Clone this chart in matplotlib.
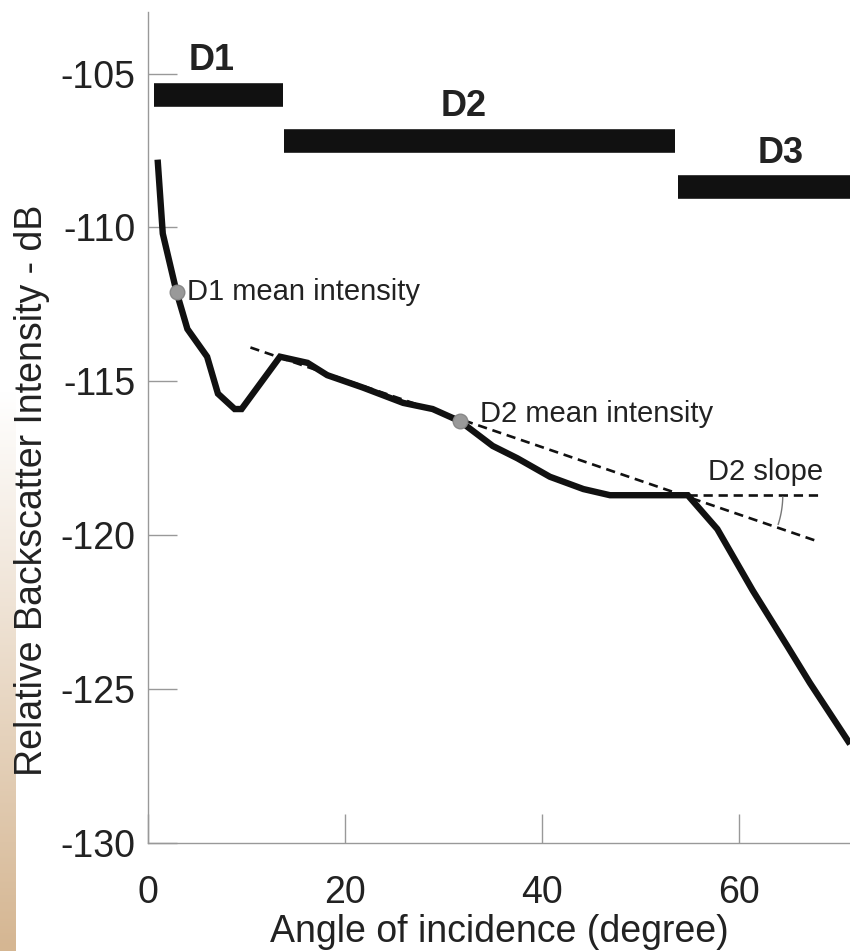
import numpy as np
import matplotlib
matplotlib.use("Agg")
from matplotlib import pyplot as plt
from matplotlib.colors import LinearSegmentedColormap

plt.rcParams['font.family'] = ['Liberation Sans', 'DejaVu Sans']
plt.rcParams['axes.unicode_minus'] = False

# backscatter curve
angle = [1.0, 1.5, 2.9, 4.0, 6.0, 7.1, 8.8, 9.5, 13.4, 16.2, 18.2, 21.8, 25.9,
         28.9, 31.7, 35.0, 37.5, 40.8, 44.2, 46.9, 54.8, 57.8, 61.4, 64.9, 67.2, 71.1]
intensity = [-107.9, -110.2, -112.1, -113.3, -114.2, -115.4, -115.9, -115.9, -114.2,
             -114.4, -114.8, -115.2, -115.7, -115.9, -116.3, -117.1, -117.5, -118.1,
             -118.5, -118.7, -118.7, -119.8, -121.8, -123.6, -124.8, -126.7]

# domains
domain_names = ['D1', 'D2', 'D3']
domain_start = [0.6, 13.8, 53.8]
domain_end = [13.7, 53.5, 71.3]
domain_level = [-105.7, -107.2, -108.7]
domain_label_x = [6.5, 32.0, 64.2]

# mean intensity points
mean_names = ['D1 mean intensity', 'D2 mean intensity']
mean_angle = [2.9, 31.7]
mean_value = [-112.1, -116.3]

# D2 slope line and the horizontal reference
slope_x = [10.4, 68.0]
slope_y = [-113.9, -120.2]
flat_x = [54.8, 68.3]
flat_y = [-118.7, -118.7]

text_col = '#222222'
grey = '#999999'

fig = plt.figure(figsize=(8.5, 9.51), dpi=100)

# pale tan strip down the left edge (behind everything)
strip = fig.add_axes([0, 0, 16/850, 560/951])
cmap = LinearSegmentedColormap.from_list('tan', ['#ffffff', '#d5b692'])
strip.imshow(np.linspace(0, 1, 200).reshape(-1, 1), aspect='auto', cmap=cmap)
strip.axis('off')
strip.set_zorder(-1)

ax = fig.add_axes([148/850, 108/951, 702/850, 831/951])
ax.patch.set_alpha(0)

ax.plot(angle, intensity, color='#111111', lw=4.6, solid_joinstyle='miter', zorder=3)
ax.plot(slope_x, slope_y, color='#111111', lw=1.9, ls=(0, (3.5, 2.2)), zorder=2)
ax.plot(flat_x, flat_y, color='#111111', lw=1.9, ls=(0, (3.5, 2.2)), zorder=2)
ax.plot(mean_angle, mean_value, ls='none', marker='o', ms=10.5, color=grey,
        markeredgecolor='#888888', zorder=4)

for name, x0, x1, lev, lx in zip(domain_names, domain_start, domain_end,
                                 domain_level, domain_label_x):
    ax.plot([x0, x1], [lev, lev], color='#111111', lw=17, solid_capstyle='butt',
            clip_on=False)
    ax.text(lx, lev + 0.55, name, fontsize=26, fontweight='bold', color=text_col,
            ha='center', va='bottom')

ax.text(4.0, -112.1, mean_names[0], fontsize=21, color=text_col, va='center')
ax.text(33.7, -116.05, mean_names[1], fontsize=21, color=text_col, va='center')
ax.text(56.9, -117.95, 'D2 slope', fontsize=21, color=text_col, va='center')

ax.set_xlim(0, 71.27)
ax.set_ylim(-130, -103.0)

# small angle arc between the slope line and the horizontal
fig.canvas.draw()
cx, cy = ax.transData.transform((flat_x[0], flat_y[0]))
ex, ey = ax.transData.transform((slope_x[1], slope_y[1]))
theta_end = np.arctan2(ey - cy, ex - cx)
theta = np.linspace(-0.02, theta_end + 0.03, 20)
r = 95
arc = ax.transData.inverted().transform(
    np.column_stack([cx + r*np.cos(theta), cy + r*np.sin(theta)]))
ax.plot(arc[:, 0], arc[:, 1], color='#777777', lw=1)

ax.set_xticks([0, 20, 40, 60])
ax.set_yticks([-130, -125, -120, -115, -110, -105])
ax.tick_params(direction='in', length=21, width=1, color=grey, labelsize=27,
               labelcolor=text_col)
ax.tick_params(axis='x', pad=23)
ax.tick_params(axis='y', pad=9)
for side in ['top', 'right']:
    ax.spines[side].set_visible(False)
for side in ['left', 'bottom']:
    ax.spines[side].set_color(grey)
    ax.spines[side].set_linewidth(1)

ax.set_xlabel('Angle of incidence (degree)', fontsize=27, color=text_col, labelpad=2)
ax.set_ylabel('Relative Backscatter Intensity - dB', fontsize=27, color=text_col)
ax.yaxis.set_label_coords(-0.14, 0.425)

fig.savefig('out.png', dpi=100)
